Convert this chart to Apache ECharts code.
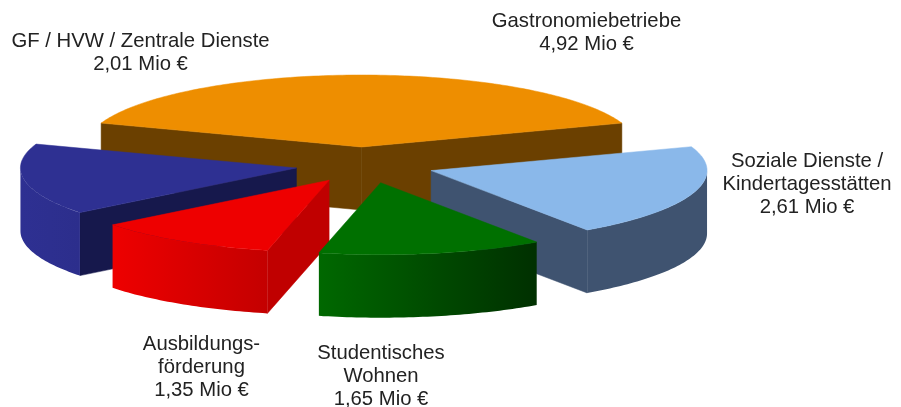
<!DOCTYPE html>
<html>
<head>
<meta charset="utf-8">
<style>
  html, body { margin: 0; padding: 0; background: #fff; }
  #chart { width: 901px; height: 407px; }
</style>
<script src="https://cdn.jsdelivr.net/npm/echarts@6/dist/echarts.min.js"></script>
</head>
<body>
<div id="chart"></div>
<script>
// Kreisteile im Uhrzeigersinn, Gastronomie liegt mittig oben
const names = [['Gastronomiebetriebe'], ['Soziale Dienste /', 'Kindertagesstätten'], ['Studentisches', 'Wohnen'], ['Ausbildungs-', 'förderung'], ['GF / HVW / Zentrale Dienste']]
const values = [4.92, 2.61, 1.65, 1.35, 2.01]
const drawOrder = [0, 1, 4, 3, 2]

const topColors = ['#EE8E00', '#8AB8EA', '#007000', '#EE0000', '#2E3092']
const sideColors = ['#6B4000', '#3F5370', '#003800', '#C00000', '#16184C']
const wallColors = [['#6B4000', '#6B4000'], ['#3F5370', '#3F5370'], ['#006800', '#003000'], ['#EE0000', '#C40000'], ['#2E3092', '#2C2E8C']]
const labelPos = [[586.5, 9.5], [807, 149.5], [381, 341.5], [201.5, 332.5], [140.5, 29.5]]
const nudgeX = [-2, 1, 4, 3, 2]

const pie = { cx: 363.5, cy: 165, a: 276, b: 72, explodeX: 70, explodeY: 18, depth: 63 }
const total = values.reduce((s, v) => s + v, 0)
const rad = d => d * Math.PI / 180

// Startwinkel jedes Teils, damit das erste Teil oben zentriert ist
const startAngles = []
let cur = 90 + values[0] / total * 180
values.forEach(v => {
  startAngles.push(cur)
  cur -= v / total * 360
})

function arcPoints (apex, from, to) {
  let pts = []
  let n = Math.max(2, Math.ceil(Math.abs(from - to)))
  for (let i = 0; i <= n; i++) {
    let d = rad(from + (to - from) * i / n)
    pts.push([apex[0] + pie.a * Math.cos(d), apex[1] - pie.b * Math.sin(d)])
  }
  return pts
}

function renderSlice (params, api) {
  let i = api.value(0)
  let from = startAngles[i]
  let to = from - values[i] / total * 360
  let mid = rad((from + to) / 2)
  let apex = [pie.cx + nudgeX[i] + pie.explodeX * Math.cos(mid), pie.cy - pie.explodeY * Math.sin(mid)]
  let drop = p => [p[0], p[1] + pie.depth]
  let children = []
  let poly = (points, fill) => ({
    type: 'polygon',
    shape: { points: points },
    style: { fill: fill, stroke: typeof fill === 'string' ? fill : null, lineWidth: 0.5 }
  })

  // Seitenflaechen der Schnittkanten, nur wenn sie nach vorn zeigen
  if (Math.sin(rad(from + 90)) < 0) {
    let e = arcPoints(apex, from, from)[0]
    children.push(poly([apex, e, drop(e), drop(apex)], sideColors[i]))
  }
  if (Math.sin(rad(to - 90)) < 0) {
    let e = arcPoints(apex, to, to)[0]
    children.push(poly([apex, e, drop(e), drop(apex)], sideColors[i]))
  }

  // Aussenwand: nur der vordere Teil des Bogens (Winkel -180 bis 0)
  let wallFrom = Math.min(from, 0)
  let wallTo = Math.max(to, -180)
  if (wallFrom > wallTo) {
    let arc = arcPoints(apex, wallFrom, wallTo)
    children.push(poly(arc.concat(arc.map(drop).reverse()), {
      type: 'linear',
      x: 1, y: 0, x2: 0, y2: 0,
      colorStops: [
        { offset: 0, color: wallColors[i][1] },
        { offset: 1, color: wallColors[i][0] }
      ]
    }))
  }

  children.push(poly([apex].concat(arcPoints(apex, from, to)), topColors[i]))
  return { type: 'group', children: children }
}

// Beschriftung: Name(n) und Wert in Mio Euro
const labelText = names.map((n, i) => n.concat(values[i].toFixed(2).replace('.', ',') + ' Mio €').join('\n'))

const chart = echarts.init(document.getElementById('chart'), null, { renderer: 'canvas' })
chart.setOption({
  backgroundColor: '#fff',
  animation: false,
  series: [{
    type: 'custom',
    coordinateSystem: 'none',
    silent: true,
    renderItem: renderSlice,
    data: drawOrder.map(i => [i])
  }],
  graphic: labelText.map((t, i) => ({
    type: 'text',
    z: 10,
    x: labelPos[i][0],
    y: labelPos[i][1],
    style: {
      text: t,
      fill: '#222',
      font: '20.3px "Liberation Sans", Arial, sans-serif',
      lineHeight: 23,
      align: 'center',
      verticalAlign: 'top'
    }
  }))
})
</script>
</body>
</html>
